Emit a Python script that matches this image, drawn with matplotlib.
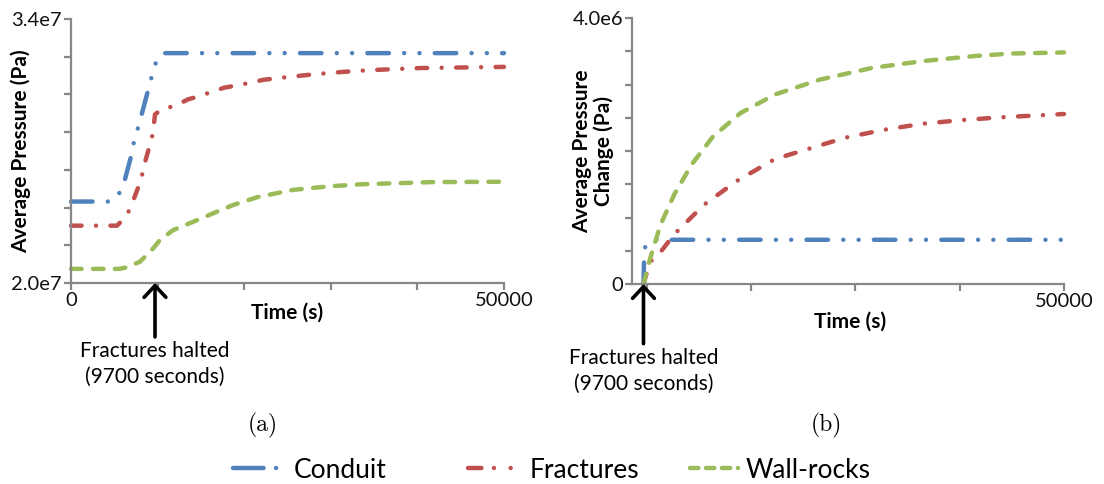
import matplotlib
matplotlib.use("Agg")
import matplotlib.pyplot as plt
from matplotlib.lines import Line2D

plt.rcParams['font.family'] = ['Lato', 'DejaVu Sans']
plt.rcParams['lines.scale_dashes'] = False

# (a) average pressure (Pa) against time (s)
t_conduit_a = [0, 4700, 5650, 6170, 7040, 7280, 7760, 8160, 8950, 9360, 9830, 10550, 50000]
p_conduit_a = [2.432e7, 2.432e7, 2.481e7, 2.539e7, 2.690e7, 2.754e7, 2.827e7, 2.894e7, 3.031e7,
               3.102e7, 3.173e7, 3.219e7, 3.219e7]

t_fract_a = [0, 5300, 5970, 6560, 7360, 8080, 8550, 9150, 9470, 9700, 10540, 11930, 13530, 14840,
             16190, 17700, 19210, 22280, 25180, 28120, 31230, 34210, 37190, 40380, 43560, 50000]
p_fract_a = [2.304e7, 2.304e7, 2.334e7, 2.370e7, 2.458e7, 2.547e7, 2.641e7, 2.739e7, 2.796e7,
             2.894e7, 2.924e7, 2.938e7, 2.974e7, 2.991e7, 3.013e7, 3.036e7, 3.048e7, 3.078e7,
             3.093e7, 3.107e7, 3.119e7, 3.128e7, 3.134e7, 3.140e7, 3.142e7, 3.146e7]

t_wall_a = [0, 5600, 6430, 7970, 9500, 10280, 11810, 14120, 16430, 18740, 21500, 25660, 29640,
            33620, 37590, 41570, 50000]
p_wall_a = [2.075e7, 2.075e7, 2.083e7, 2.113e7, 2.184e7, 2.228e7, 2.281e7, 2.325e7, 2.370e7,
            2.414e7, 2.455e7, 2.494e7, 2.512e7, 2.524e7, 2.529e7, 2.535e7, 2.537e7]

# (b) average pressure change (Pa) after the fractures halt
t_conduit_b = [9700, 9760, 9900, 10550, 50000]
dp_conduit_b = [0, 0.41e6, 0.60e6, 0.665e6, 0.665e6]

t_fract_b = [9700, 10330, 11330, 12660, 15490, 18650, 22310, 25470, 29030, 32790, 36450, 40220,
             43880, 50000]
dp_fract_b = [0, 0.33e6, 0.48e6, 0.75e6, 1.19e6, 1.55e6, 1.88e6, 2.03e6, 2.20e6, 2.32e6, 2.41e6,
              2.465e6, 2.506e6, 2.556e6]

t_wall_b = [9700, 10330, 11330, 12660, 14330, 16320, 18990, 22310, 26640, 31630, 36620, 41610,
            44940, 50000]
dp_wall_b = [0, 0.38e6, 0.89e6, 1.35e6, 1.80e6, 2.21e6, 2.57e6, 2.85e6, 3.075e6, 3.25e6, 3.355e6,
             3.43e6, 3.466e6, 3.482e6]

t_halt = 9700

BLUE, RED, GREEN = '#4F81BD', '#C0504D', '#9BBB59'
GRAY = '#878787'
LW = 3.2
styles = {
    'Conduit': dict(color=BLUE, linestyle=(0, (15.5, 11, 0.01, 11, 0.01, 11))),
    'Fractures': dict(color=RED, linestyle=(0, (7.6, 10.4, 0.01, 10.4))),
    'Wall-rocks': dict(color=GREEN, linestyle=(0, (7.6, 8.2))),
}


def style_axes(ax):
    for side in ('top', 'right'):
        ax.spines[side].set_visible(False)
    for side in ('left', 'bottom'):
        ax.spines[side].set_color(GRAY)
        ax.spines[side].set_linewidth(1.6)
    ax.tick_params(direction='out', length=5, width=1.6, color=GRAY,
                   labelsize=14.5, pad=1.5, labelcolor='#111111')


def draw(ax, series):
    for name, t, v in series:
        ax.plot(t, v, lw=LW, dash_capstyle='round', solid_capstyle='round',
                clip_on=False, **styles[name])


def halt_note(ax, ytext):
    tr = ax.get_xaxis_transform()
    ax.annotate('Fractures halted\n(9700 seconds)', xy=(t_halt, 0), xycoords=tr,
                xytext=(t_halt, ytext), textcoords=tr, ha='center', va='top',
                fontsize=15, linespacing=1.35, annotation_clip=False,
                arrowprops=dict(arrowstyle='->, head_length=0.3, head_width=0.28',
                                lw=2.6, color='black', mutation_scale=28,
                                shrinkA=1, shrinkB=0))


fig = plt.figure(figsize=(11.04, 4.84), dpi=100)

# panel (a)
ax1 = fig.add_axes([71 / 1104, 201 / 484, 433 / 1104, 264 / 484])
draw(ax1, [('Conduit', t_conduit_a, p_conduit_a),
           ('Fractures', t_fract_a, p_fract_a),
           ('Wall-rocks', t_wall_a, p_wall_a)])
ax1.set_xlim(0, 50000)
ax1.set_ylim(2.0e7, 3.4e7)
ax1.set_xticks(range(0, 50001, 10000))
ax1.set_xticklabels(['0', '', '', '', '', '50000'])
ax1.set_yticks([2.0e7 + i * 2e6 for i in range(8)])
ax1.set_yticklabels(['2.0e7'] + [''] * 6 + ['3.4e7'])
style_axes(ax1)
ax1.set_xlabel('Time (s)', fontsize=15, fontweight='bold')
ax1.xaxis.set_label_coords(0.5, -0.076)
ax1.set_ylabel('Average Pressure (Pa)', fontsize=15, fontweight='bold')
ax1.yaxis.set_label_coords(-0.092, 0.5)
halt_note(ax1, -0.22)

# panel (b)
ax2 = fig.add_axes([632 / 1104, 200 / 484, 432 / 1104, 266 / 484])
draw(ax2, [('Conduit', t_conduit_b, dp_conduit_b),
           ('Fractures', t_fract_b, dp_fract_b),
           ('Wall-rocks', t_wall_b, dp_wall_b)])
ax2.set_xlim(8600, 50000)
ax2.set_ylim(0, 4.0e6)
ax2.set_xticks(range(10000, 50001, 10000))
ax2.set_xticklabels(['', '', '', '', '50000'])
ax2.set_yticks([i * 0.5e6 for i in range(9)])
ax2.set_yticklabels(['0'] + [''] * 7 + ['4.0e6'])
style_axes(ax2)
ax2.set_xlabel('Time (s)', fontsize=15, fontweight='bold')
ax2.xaxis.set_label_coords(0.504, -0.105)
ax2.set_ylabel('Average Pressure\nChange (Pa)', fontsize=15, fontweight='bold',
               linespacing=1.1)
ax2.yaxis.set_label_coords(-0.042, 0.5)
halt_note(ax2, -0.24)

fig.text(263 / 1104, 1 - 425 / 484, '(a)', ha='center', va='center',
         fontsize=17, family='cmr10')
fig.text(826 / 1104, 1 - 425 / 484, '(b)', ha='center', va='center',
         fontsize=17, family='cmr10')

# shared legend, one entry at a time so each sits where it should
legend_entries = [
    ('Conduit', BLUE, (0, (22, 9, 0.01, 20)), 233, 2.0),
    ('Fractures', RED, (0, (9.7, 9, 0.01, 12, 0.01, 12)), 468, 2.05),
    ('Wall-rocks', GREEN, (0, (6, 5.5)), 690, 1.8),
]
for label, color, ls, x0, hlen in legend_entries:
    h = Line2D([], [], color=color, lw=LW, dash_capstyle='round', linestyle=ls)
    fig.legend([h], [label], loc='center left', bbox_to_anchor=(x0 / 1104, 14 / 484),
               frameon=False, fontsize=19, handlelength=hlen, handletextpad=0.3,
               borderpad=0, borderaxespad=0)

fig.savefig('out.png', dpi=100)
